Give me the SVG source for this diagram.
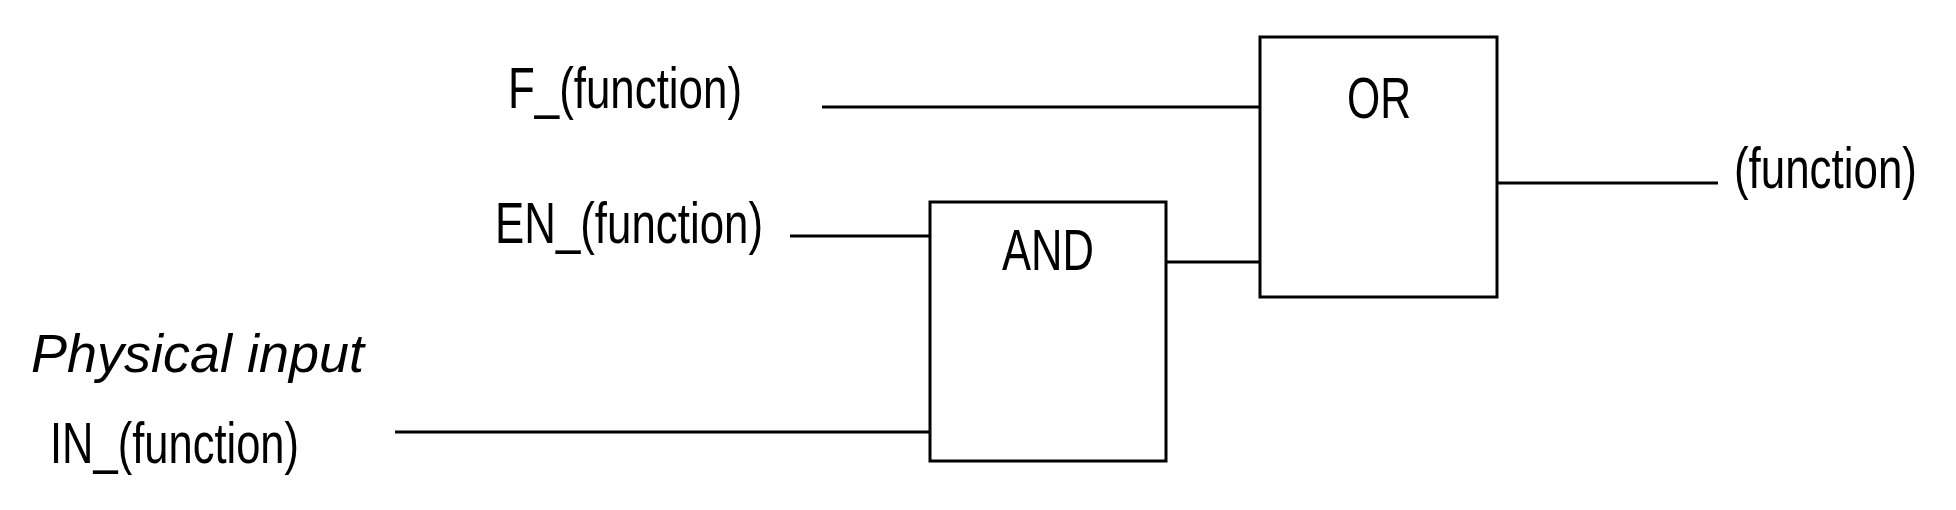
<svg xmlns="http://www.w3.org/2000/svg" width="1956" height="510" viewBox="0 0 1956 510">
<style>
.box{fill:#fff;stroke:#000;stroke-width:3}
.ln{stroke:#000;stroke-width:3;fill:none}
.t{font-family:"Liberation Sans",Arial,sans-serif;font-size:57px;fill:#000}
.it{font-family:"Liberation Sans",Arial,sans-serif;font-size:54px;font-style:italic;fill:#000}
</style>
<rect width="1956" height="510" fill="#fff"/>
<g id="connectors">
<line class="ln" x1="822" y1="107" x2="1260" y2="107"/>
<line class="ln" x1="790" y1="236" x2="930" y2="236"/>
<line class="ln" x1="395" y1="432" x2="930" y2="432"/>
<line class="ln" x1="1166" y1="262" x2="1260" y2="262"/>
<line class="ln" x1="1497" y1="183" x2="1718" y2="183"/>
</g>
<g id="and">
<rect class="box" x="930" y="202" width="236" height="259"/>
<text class="t" x="1048" y="270" text-anchor="middle" textLength="92" lengthAdjust="spacingAndGlyphs">AND</text>
</g>
<g id="or">
<rect class="box" x="1260" y="37" width="237" height="260"/>
<text class="t" x="1379" y="118" text-anchor="middle" textLength="64" lengthAdjust="spacingAndGlyphs">OR</text>
</g>
<g id="label-f">
<text class="t" x="508" y="108" textLength="234" lengthAdjust="spacingAndGlyphs">F_(function)</text>
</g>
<g id="label-en">
<text class="t" x="495" y="243" textLength="268" lengthAdjust="spacingAndGlyphs">EN_(function)</text>
</g>
<g id="label-physical">
<text class="it" x="31" y="372" textLength="333" lengthAdjust="spacingAndGlyphs">Physical input</text>
</g>
<g id="label-in">
<text class="t" x="50" y="463" textLength="249" lengthAdjust="spacingAndGlyphs">IN_(function)</text>
</g>
<g id="label-out">
<text class="t" transform="translate(1734,188) scale(0.77,1)" x="0" y="0">(function)</text>
</g>
</svg>
